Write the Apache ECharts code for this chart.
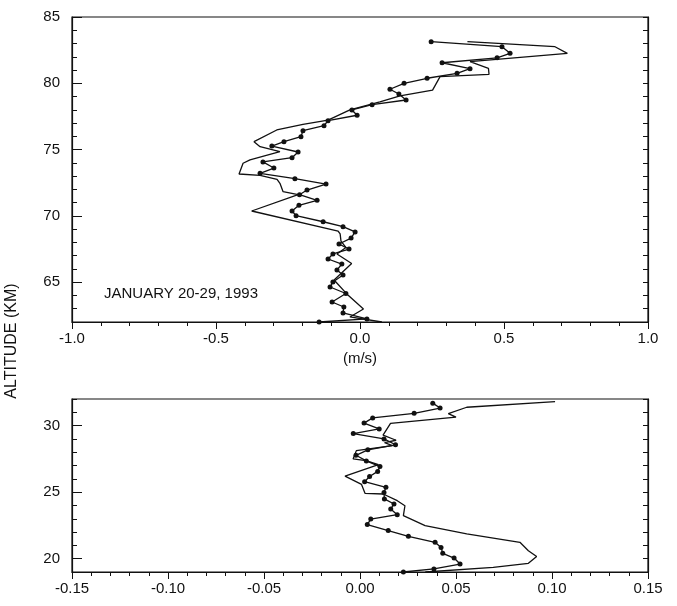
<!DOCTYPE html>
<html>
<head>
<meta charset="utf-8">
<script src="https://cdn.jsdelivr.net/npm/echarts@6/dist/echarts.min.js"></script>
<style>
  html, body { margin: 0; padding: 0; background: #fff; }
  #chart { width: 677px; height: 606px; }
</style>
</head>
<body>
<div id="chart"></div>
<script>
// Upper panel (mesosphere, 62-85 km): wind speed (m/s) vs altitude (km)
var upperDotSpeed = [0.247, 0.493, 0.521, 0.476, 0.285, 0.382, 0.337, 0.233, 0.153, 0.104, 0.135, 0.160, 0.042, -0.028, -0.010, -0.111, -0.125, -0.198, -0.205, -0.264, -0.306, -0.215, -0.236, -0.337, -0.299, -0.347, -0.226, -0.118, -0.184, -0.210, -0.149, -0.212, -0.236, -0.222, -0.128, -0.059, -0.017, -0.031, -0.073, -0.038, -0.094, -0.111, -0.063, -0.080, -0.059, -0.094, -0.104, -0.049, -0.097, -0.056, -0.059, 0.024, -0.142];
var upperDotAlt = [83.14, 82.76, 82.26, 81.92, 81.55, 81.10, 80.75, 80.38, 80.00, 79.55, 79.19, 78.74, 78.39, 77.99, 77.59, 77.18, 76.80, 76.43, 75.97, 75.60, 75.27, 74.82, 74.39, 74.07, 73.61, 73.21, 72.81, 72.40, 71.95, 71.60, 71.18, 70.80, 70.37, 70.02, 69.56, 69.19, 68.79, 68.33, 67.88, 67.50, 67.13, 66.75, 66.37, 65.92, 65.54, 65.02, 64.64, 64.15, 63.51, 63.13, 62.68, 62.23, 62.00];

var upperLineSpeed = [0.373, 0.677, 0.720, 0.382, 0.446, 0.448, 0.278, 0.252, 0.139, 0.069, -0.035, -0.111, -0.198, -0.289, -0.368, -0.347, -0.278, -0.382, -0.406, -0.420, -0.347, -0.288, -0.278, -0.267, -0.215, -0.376, -0.076, -0.069, -0.066, -0.049, -0.080, -0.029, -0.090, -0.042, 0.012, -0.035, 0.076];
var upperLineAlt = [83.14, 82.76, 82.26, 81.63, 81.13, 80.68, 80.50, 79.49, 79.05, 78.60, 77.99, 77.23, 76.91, 76.48, 75.60, 75.22, 74.84, 74.22, 73.97, 73.16, 73.06, 72.76, 72.46, 71.83, 71.61, 70.37, 68.86, 68.64, 68.10, 67.62, 67.13, 66.41, 65.17, 64.03, 62.98, 62.38, 62.00];

// Lower panel (stratosphere, 19-32 km)
var lowerDotSpeed = [0.0379, 0.0417, 0.0282, 0.0066, 0.0021, 0.0100, -0.0035, 0.0125, 0.0185, 0.0041, -0.0021, 0.0033, 0.0104, 0.0092, 0.0050, 0.0024, 0.0135, 0.0125, 0.0127, 0.0177, 0.0160, 0.0194, 0.0056, 0.0038, 0.0147, 0.0252, 0.0391, 0.0422, 0.0431, 0.0490, 0.0521, 0.0385, 0.0226];
var lowerDotAlt = [31.69, 31.32, 30.92, 30.58, 30.19, 29.75, 29.40, 29.00, 28.56, 28.18, 27.77, 27.35, 26.92, 26.56, 26.18, 25.79, 25.36, 24.98, 24.49, 24.11, 23.74, 23.31, 22.98, 22.56, 22.11, 21.68, 21.23, 20.85, 20.40, 20.05, 19.60, 19.23, 19.00];

var lowerLineSpeed = [0.1016, 0.0556, 0.0460, 0.0500, 0.0159, 0.0120, 0.0188, 0.0128, 0.0169, -0.0019, -0.0036, 0.0031, 0.0096, -0.0078, 0.0008, 0.0026, 0.0121, 0.0194, 0.0234, 0.0226, 0.0339, 0.0556, 0.0833, 0.0877, 0.0920, 0.0877, 0.0694, 0.0340];
var lowerLineAlt = [31.80, 31.38, 30.90, 30.64, 30.17, 29.28, 28.90, 28.72, 28.50, 28.12, 27.50, 27.37, 27.07, 26.20, 25.58, 24.91, 24.86, 24.36, 23.98, 23.23, 22.48, 21.86, 21.23, 20.60, 20.17, 19.65, 19.35, 19.00];

var upperYTicks = [65, 70, 75, 80, 85];
var lowerYTicks = [20, 25, 30];

function pairs(xs, ys) {
  return xs.map(function (x, i) { return [x, ys[i]]; });
}

var FONT = '"Liberation Sans", Arial, Helvetica, sans-serif';
var INK = '#111';

function xAxisDef(gridIndex, min, max, interval, digits, name) {
  return {
    type: 'value', gridIndex: gridIndex, min: min, max: max, interval: interval,
    position: 'bottom',
    axisLine: { show: true, onZero: false, lineStyle: { color: INK, width: 1.2 } },
    axisTick: { show: true, inside: false, length: 7, lineStyle: { color: INK, width: 1 } },
    minorTick: { show: true, splitNumber: 5, length: 4, lineStyle: { color: INK, width: 1 } },
    splitLine: { show: false },
    axisLabel: { margin: 9, color: INK, fontFamily: FONT, fontSize: 15,
      formatter: function (v) { return v.toFixed(digits); } },
    name: name || '', nameLocation: 'middle', nameGap: 29,
    nameTextStyle: { color: INK, fontFamily: FONT, fontSize: 15 }
  };
}

function yAxisDef(gridIndex, min, max, labels, position, showLabels) {
  return {
    type: 'value', gridIndex: gridIndex, min: min, max: max, interval: 1,
    position: position,
    axisLine: { show: true, onZero: false, lineStyle: { color: INK, width: 1.2 } },
    axisTick: { show: true, inside: true, length: 5, lineStyle: { color: INK, width: 1 } },
    splitLine: { show: false },
    axisLabel: {
      show: showLabels, margin: 12, color: INK, fontFamily: FONT, fontSize: 15,
      customValues: labels
    }
  };
}

// Longer ticks at the labelled altitudes
function yMajorTicks(gridIndex, min, max, labels) {
  return {
    type: 'value', gridIndex: gridIndex, min: min, max: max, position: 'left',
    axisLine: { show: false, onZero: false },
    axisTick: { show: true, inside: true, length: 10, customValues: labels,
      lineStyle: { color: INK, width: 1 } },
    axisLabel: { show: false },
    splitLine: { show: false }
  };
}

var chart = echarts.init(document.getElementById('chart'), null, { renderer: 'canvas' });

var lineStyle = { color: INK, width: 1.3 };

chart.setOption({
  backgroundColor: '#fff',
  animation: false,
  grid: [
    { left: 72, top: 17, width: 576, height: 305, show: true, borderColor: INK, borderWidth: 1.2 },
    { left: 72, top: 399, width: 576, height: 173, show: true, borderColor: INK, borderWidth: 1.2 }
  ],
  xAxis: [
    xAxisDef(0, -1, 1, 0.5, 1, '(m/s)'),
    xAxisDef(1, -0.15, 0.15, 0.05, 2, '')
  ],
  yAxis: [
    yAxisDef(0, 62, 85, upperYTicks, 'left', true),
    yAxisDef(0, 62, 85, upperYTicks, 'right', false),
    yAxisDef(1, 19, 32, lowerYTicks, 'left', true),
    yAxisDef(1, 19, 32, lowerYTicks, 'right', false),
    yMajorTicks(0, 62, 85, upperYTicks),
    yMajorTicks(1, 19, 32, lowerYTicks)
  ],
  series: [
    { type: 'line', xAxisIndex: 0, yAxisIndex: 0, data: pairs(upperLineSpeed, upperLineAlt),
      showSymbol: false, lineStyle: lineStyle, z: 2 },
    { type: 'line', xAxisIndex: 0, yAxisIndex: 0, data: pairs(upperDotSpeed, upperDotAlt),
      symbol: 'circle', symbolSize: 5, itemStyle: { color: INK }, lineStyle: lineStyle, z: 3 },
    { type: 'line', xAxisIndex: 1, yAxisIndex: 2, data: pairs(lowerLineSpeed, lowerLineAlt),
      showSymbol: false, lineStyle: lineStyle, z: 2 },
    { type: 'line', xAxisIndex: 1, yAxisIndex: 2, data: pairs(lowerDotSpeed, lowerDotAlt),
      symbol: 'circle', symbolSize: 5, itemStyle: { color: INK }, lineStyle: lineStyle, z: 3 }
  ],
  graphic: [
    { type: 'text', left: 104, top: 286,
      style: { text: 'JANUARY 20-29, 1993', fill: INK, font: '15px ' + FONT } },
    { type: 'text', x: 12, y: 341, rotation: Math.PI / 2,
      style: { text: 'ALTITUDE (KM)', fill: INK, font: '16px ' + FONT,
        textAlign: 'center', textVerticalAlign: 'middle' } }
  ]
});
</script>
</body>
</html>
